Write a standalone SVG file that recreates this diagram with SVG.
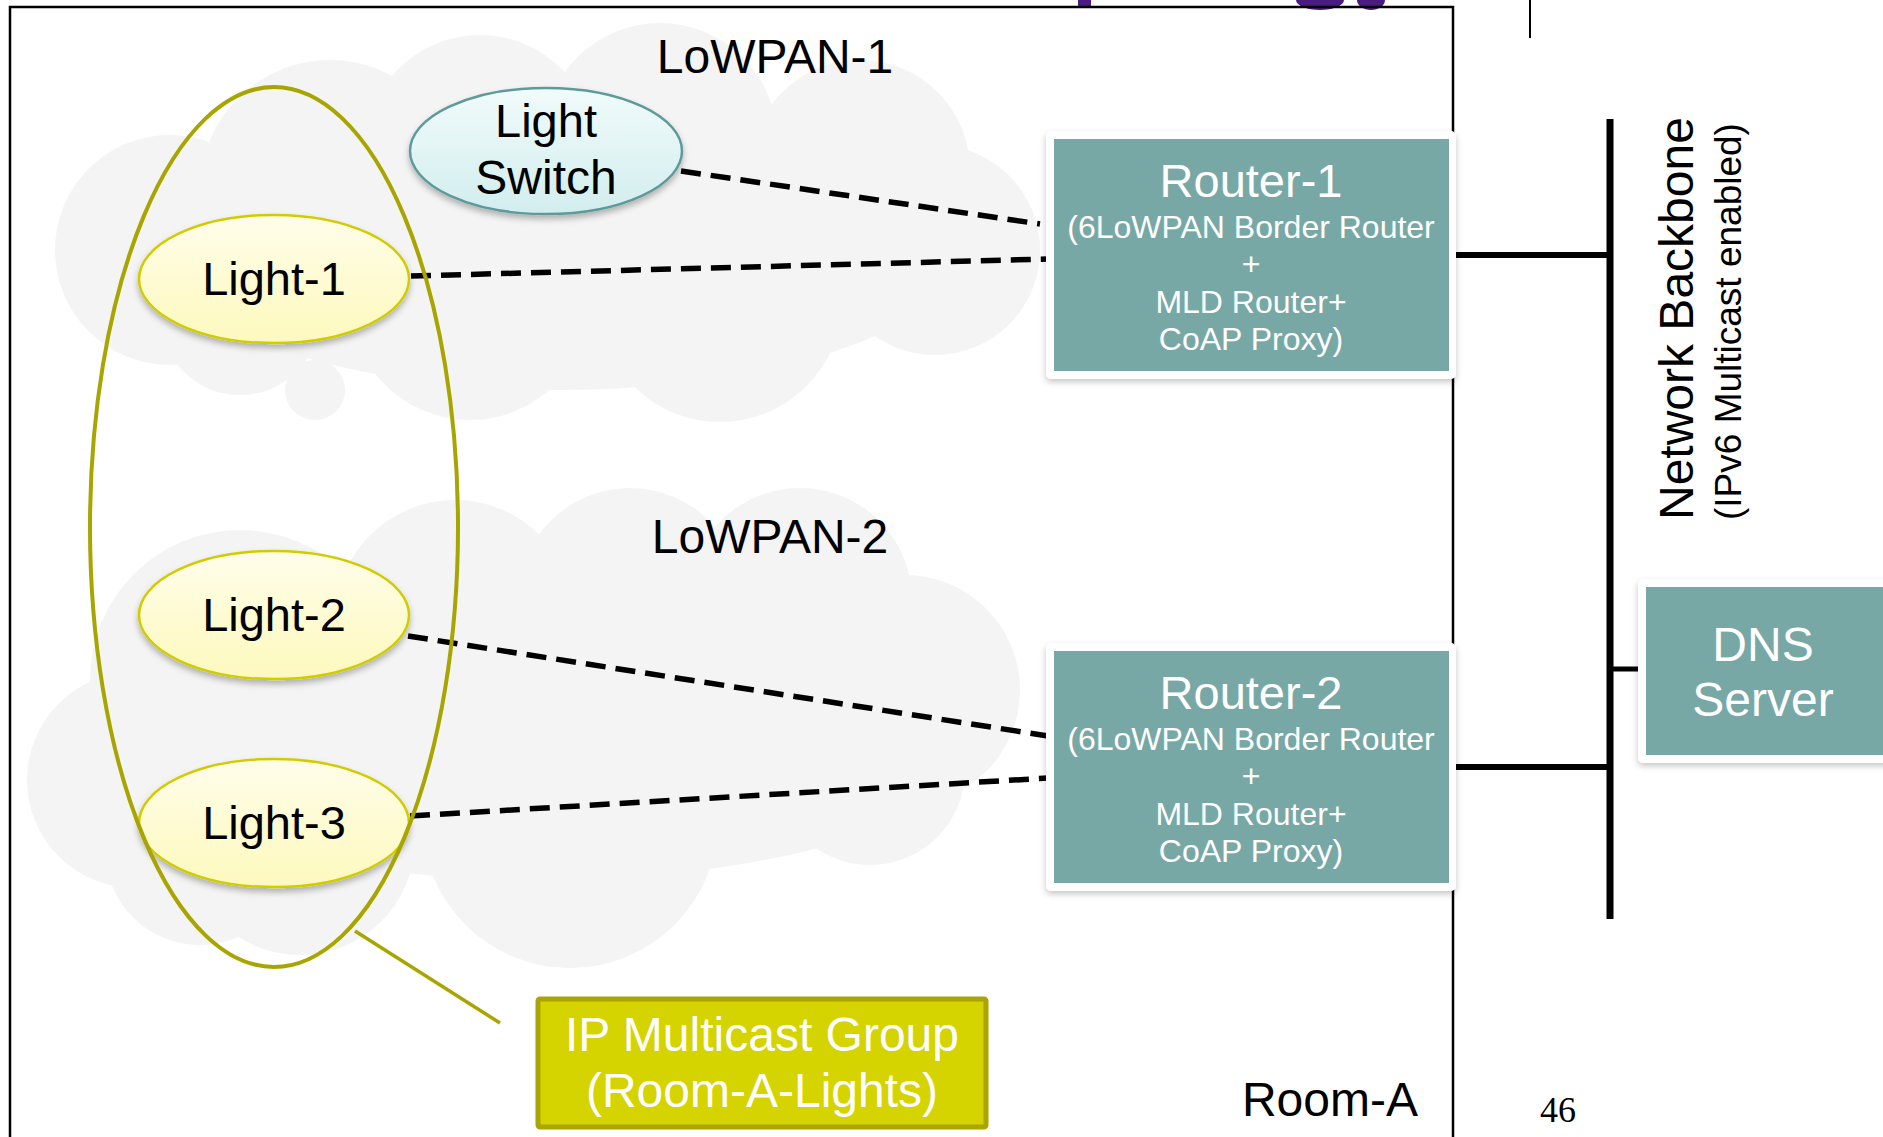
<svg xmlns="http://www.w3.org/2000/svg" width="1883" height="1137" viewBox="0 0 1883 1137">
  <defs>
    <linearGradient id="gYellow" x1="0" y1="0" x2="0" y2="1">
      <stop offset="0" stop-color="#fffdea"/>
      <stop offset="1" stop-color="#fdf9bd"/>
    </linearGradient>
    <linearGradient id="gCyan" x1="0" y1="0" x2="0" y2="1">
      <stop offset="0" stop-color="#f1fbfb"/>
      <stop offset="1" stop-color="#d2edee"/>
    </linearGradient>
    <filter id="shadow" x="-20%" y="-20%" width="140%" height="150%">
      <feDropShadow dx="0" dy="4" stdDeviation="3" flood-color="#000" flood-opacity="0.28"/>
    </filter>
    <filter id="frameShadow" x="-10%" y="-10%" width="120%" height="130%">
      <feDropShadow dx="0" dy="3" stdDeviation="3" flood-color="#000" flood-opacity="0.22"/>
    </filter>
  </defs>
  <style>
    .cloud { fill: #f4f4f4; }
    .txt { font-family: "Liberation Sans", Arial, Helvetica, sans-serif; }
    .dash { stroke: #000; stroke-width: 5.5; stroke-dasharray: 20 10; fill: none; }
    .wire { stroke: #000; fill: none; }
    .light { fill: url(#gYellow); stroke: #d0cc00; stroke-width: 2.5; filter: url(#shadow); }
    .switch { fill: url(#gCyan); stroke: #5f9a9b; stroke-width: 2.5; filter: url(#shadow); }
    .frame { fill: #fff; filter: url(#frameShadow); }
    .teal { fill: #78a8a6; }
    .nodeTxt { font-size: 47px; fill: #000; text-anchor: middle; }
    .wTxt { fill: #fff; text-anchor: middle; }
  </style>

  <rect x="0" y="0" width="1883" height="1137" fill="#fff"/>

  <!-- title fragments cut off at top edge -->
  <g id="title-fragments" fill="#4b1c80">
    <rect x="1078" y="0" width="13" height="8"/>
    <ellipse cx="1320" cy="0" rx="24" ry="10"/>
    <ellipse cx="1371" cy="0" rx="14" ry="10"/>
  </g>
  <line x1="1530" y1="0" x2="1530" y2="38" stroke="#000" stroke-width="2"/>

  <!-- Room-A boundary -->
  <g id="room-a">
    <path d="M10,1140 L10,7 L1453,7 L1453,1140" fill="none" stroke="#000" stroke-width="2.5"/>
    <text class="txt" x="1418" y="1116" font-size="48" text-anchor="end">Room-A</text>
  </g>

  <!-- LoWPAN-1 cloud -->
  <g id="lowpan-1">
    <g class="cloud">
      <ellipse cx="560" cy="240" rx="410" ry="150"/>
      <circle cx="170" cy="250" r="115"/>
      <circle cx="330" cy="190" r="130"/>
      <circle cx="480" cy="150" r="115"/>
      <circle cx="660" cy="140" r="117"/>
      <circle cx="860" cy="170" r="110"/>
      <circle cx="935" cy="250" r="105"/>
      <circle cx="720" cy="300" r="122"/>
      <circle cx="470" cy="300" r="120"/>
      <circle cx="240" cy="315" r="80"/>
      <circle cx="315" cy="390" r="30"/>
    </g>
    <text class="txt" x="775" y="73" font-size="48" text-anchor="middle">LoWPAN-1</text>
  </g>

  <!-- LoWPAN-2 cloud -->
  <g id="lowpan-2">
    <g class="cloud">
      <ellipse cx="540" cy="730" rx="450" ry="150"/>
      <circle cx="240" cy="680" r="150"/>
      <circle cx="135" cy="780" r="108"/>
      <circle cx="455" cy="620" r="120"/>
      <circle cx="630" cy="600" r="112"/>
      <circle cx="800" cy="600" r="112"/>
      <circle cx="905" cy="690" r="115"/>
      <circle cx="870" cy="770" r="95"/>
      <circle cx="570" cy="820" r="148"/>
      <circle cx="300" cy="840" r="115"/>
      <circle cx="200" cy="850" r="95"/>
    </g>
    <text class="txt" x="770" y="553" font-size="48" text-anchor="middle">LoWPAN-2</text>
  </g>

  <!-- connectors -->
  <g id="connectors">
    <line class="dash" x1="681" y1="171" x2="1040" y2="224"/>
    <line class="dash" x1="411" y1="276" x2="1048" y2="259"/>
    <line class="dash" x1="408" y1="636" x2="1048" y2="736"/>
    <line class="dash" x1="410" y1="816" x2="1048" y2="778"/>
    <line class="wire" x1="1448" y1="255" x2="1612" y2="255" stroke-width="6"/>
    <line class="wire" x1="1448" y1="767" x2="1612" y2="767" stroke-width="6"/>
    <line class="wire" x1="1612" y1="669" x2="1640" y2="669" stroke-width="5"/>
    <line class="wire" x1="1610" y1="119" x2="1610" y2="919" stroke-width="7"/>
    <line x1="355" y1="931" x2="500" y2="1023" stroke="#a9a500" stroke-width="3.5"/>
  </g>

  <!-- nodes -->
  <g id="light-switch">
    <ellipse class="switch" cx="546" cy="151" rx="136" ry="63"/>
    <text class="txt nodeTxt" x="546" y="137" font-size="48">Light</text>
    <text class="txt nodeTxt" x="546" y="194" style="font-size:48px">Switch</text>
  </g>
  <g id="light-1">
    <ellipse class="light" cx="274" cy="279" rx="135" ry="64"/>
    <text class="txt nodeTxt" x="274" y="295">Light-1</text>
  </g>
  <g id="light-2">
    <ellipse class="light" cx="274" cy="615" rx="135" ry="64"/>
    <text class="txt nodeTxt" x="274" y="631">Light-2</text>
  </g>
  <g id="light-3">
    <ellipse class="light" cx="274" cy="823" rx="135" ry="64"/>
    <text class="txt nodeTxt" x="274" y="839">Light-3</text>
  </g>

  <g id="multicast-group-ellipse">
    <ellipse cx="274" cy="527" rx="184" ry="440" fill="none" stroke="#a9a500" stroke-width="4"/>
  </g>

  <g id="multicast-group-label">
    <rect x="538" y="999" width="448" height="128" rx="2" fill="#d5d300" stroke="#aaa500" stroke-width="5"/>
    <text class="txt wTxt" x="762" y="1051" font-size="48">IP Multicast Group</text>
    <text class="txt wTxt" x="762" y="1107" font-size="48">(Room-A-Lights)</text>
  </g>

  <g id="router-1">
    <rect class="frame" x="1046" y="131" width="410" height="248" rx="5"/>
    <rect class="teal" x="1054" y="139" width="395" height="232"/>
    <text class="txt wTxt" x="1251" y="197" font-size="47">Router-1</text>
    <text class="txt wTxt" x="1251" y="238" font-size="32">(6LoWPAN Border Router</text>
    <text class="txt wTxt" x="1251" y="275" font-size="32">+</text>
    <text class="txt wTxt" x="1251" y="313" font-size="32">MLD Router+</text>
    <text class="txt wTxt" x="1251" y="350" font-size="32">CoAP Proxy)</text>
  </g>

  <g id="router-2">
    <rect class="frame" x="1046" y="643" width="410" height="248" rx="5"/>
    <rect class="teal" x="1054" y="651" width="395" height="232"/>
    <text class="txt wTxt" x="1251" y="709" font-size="47">Router-2</text>
    <text class="txt wTxt" x="1251" y="750" font-size="32">(6LoWPAN Border Router</text>
    <text class="txt wTxt" x="1251" y="787" font-size="32">+</text>
    <text class="txt wTxt" x="1251" y="825" font-size="32">MLD Router+</text>
    <text class="txt wTxt" x="1251" y="862" font-size="32">CoAP Proxy)</text>
  </g>

  <g id="dns-server">
    <rect class="frame" x="1638" y="579" width="260" height="184" rx="5"/>
    <rect class="teal" x="1646" y="587" width="250" height="168"/>
    <text class="txt wTxt" x="1763" y="661" font-size="48">DNS</text>
    <text class="txt wTxt" x="1763" y="716" font-size="48">Server</text>
  </g>

  <g id="network-backbone">
    <text class="txt" transform="translate(1693,520) rotate(-90)" font-size="48">Network Backbone</text>
    <text class="txt" transform="translate(1741,520) rotate(-90)" font-size="37">(IPv6 Multicast enabled)</text>
  </g>

  <text x="1558" y="1122" font-family="'Liberation Serif', 'Times New Roman', serif" font-size="36" text-anchor="middle">46</text>
</svg>
